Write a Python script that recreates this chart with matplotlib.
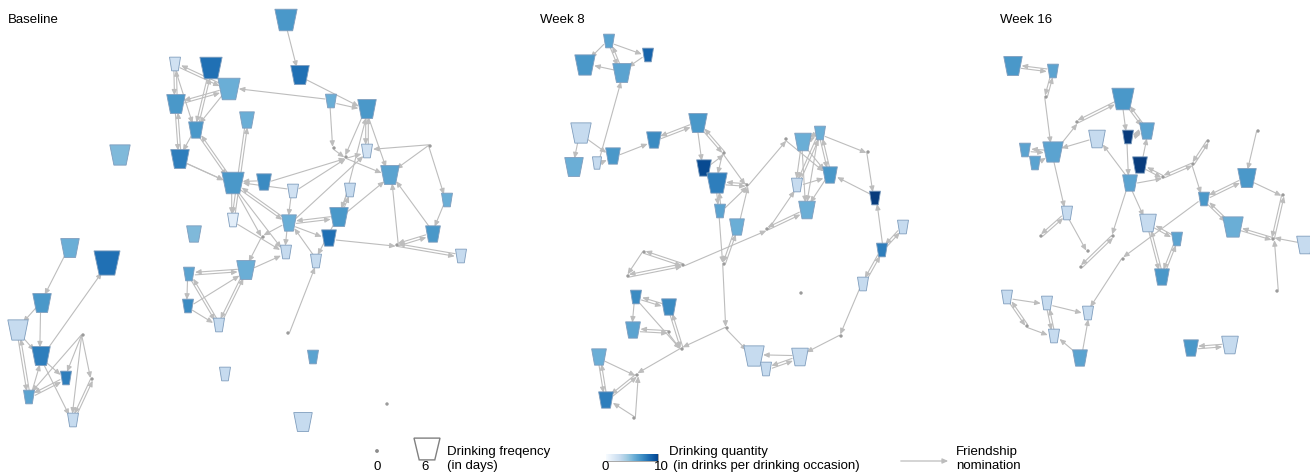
import numpy as np
import matplotlib
matplotlib.use('Agg')
import matplotlib.pyplot as plt
from matplotlib.patches import Polygon, Circle, FancyArrowPatch

plt.rcParams['font.family'] = ['Liberation Sans', 'DejaVu Sans']

# Nodes: (x, y, drinking frequency in days, drinking quantity) -- layout in pixels
base_nodes = [
    (286, 20, 5, 6), (300, 75, 4, 7.5), (175, 64, 2, 2), (211, 68, 5, 7.5),
    (229, 89, 5, 5), (176, 104, 4, 6), (331, 101, 2, 5), (367, 109, 4, 6),
    (196, 130, 3, 6), (247, 120, 3, 5), (120, 155, 4.5, 4.5), (180, 159, 4, 7),
    (233, 183, 5, 6), (264, 182, 3, 6.5), (293, 191, 2, 2), (367, 151, 2, 2),
    (350, 190, 2, 2.5), (390, 175, 4, 5.5), (447, 200, 2, 5), (339, 217, 4, 6),
    (233, 220, 2, 1), (289, 223, 3, 5), (329, 238, 3, 7.5), (194, 234, 3, 4.5),
    (286, 252, 2, 2.5), (316, 261, 2, 2.5), (246, 270, 4, 5), (433, 234, 3, 6),
    (461, 256, 2, 2.5), (189, 274, 2, 5.5), (188, 306, 2, 6.5), (219, 325, 2, 2.5),
    (70, 248, 4, 5), (107, 263, 6, 7.5), (42, 303, 4, 6), (18, 330, 4.5, 2.5),
    (41, 356, 4, 7), (66, 378, 2, 7), (29, 397, 2, 5.5), (73, 420, 2, 2.5),
    (313, 357, 2, 5.5), (225, 374, 2, 2.5), (303, 422, 4, 2.5),
    (83, 335, 0, 0), (92, 379, 0, 0), (288, 333, 0, 0), (387, 404, 0, 0),
    (430, 146, 0, 0), (334, 148, 0, 0), (346, 157, 0, 0), (263, 237, 0, 0),
    (397, 245, 0, 0),
]
base_edges = [
    (0, 1), (1, 7), (2, 5), (5, 2), (2, 4), (4, 2), (2, 8), (3, 8), (8, 3),
    (4, 5), (5, 4), (4, 8), (6, 4), (6, 48), (6, 7), (5, 11), (11, 5), (8, 11),
    (8, 12), (12, 8), (11, 12), (9, 20), (20, 9), (7, 15), (15, 7), (7, 17),
    (7, 49), (19, 7), (14, 49), (49, 15), (21, 15), (49, 17), (48, 49), (13, 49),
    (47, 15), (47, 17), (47, 18), (27, 17), (18, 27), (27, 51), (51, 27),
    (22, 51), (51, 28), (28, 51), (51, 17), (19, 21), (21, 19), (16, 19),
    (19, 16), (19, 17), (13, 12), (14, 12), (14, 21), (12, 24), (12, 21),
    (21, 12), (12, 20), (20, 24), (12, 50), (21, 50), (50, 26), (25, 21),
    (19, 25), (45, 25), (29, 26), (26, 29), (26, 31), (31, 26), (26, 24),
    (29, 31), (31, 29), (30, 26), (29, 30), (30, 31), (11, 12), (21, 22),
    (21, 24),
    (32, 34), (34, 36), (34, 35), (35, 36), (36, 33), (35, 38), (38, 35),
    (36, 37), (36, 39), (38, 37), (37, 38), (38, 36), (43, 37), (43, 38),
    (43, 39), (43, 44), (44, 39), (39, 44),
]

week8_nodes = [
    (609, 41, 2, 5.5), (585, 65, 4.5, 6), (648, 55, 2, 8), (622, 73, 4, 5.5),
    (581, 133, 4.5, 2.5), (574, 167, 4, 5), (597, 163, 1.5, 2.5), (613, 156, 3, 6),
    (654, 140, 3, 6.5), (698, 123, 4, 6), (704, 168, 3, 9), (717, 183, 4.5, 7),
    (720, 211, 2, 5.5), (737, 227, 3, 5), (803, 142, 3.5, 5), (820, 133, 2, 5),
    (830, 175, 3, 6), (797, 185, 2, 2.5), (807, 210, 3.5, 5), (875, 198, 2, 9.5),
    (903, 227, 2, 2.5), (882, 250, 2, 7), (863, 284, 2, 2.5), (636, 297, 2, 6.5),
    (669, 307, 3, 6.5), (633, 330, 3, 5.5), (599, 357, 3, 5), (606, 400, 3, 7),
    (754, 356, 4.5, 2.5), (766, 369, 2, 2.5), (800, 357, 3.5, 2.5),
    (724, 153, 0, 0), (747, 185, 0, 0), (786, 139, 0, 0), (868, 152, 0, 0),
    (767, 229, 0, 0), (724, 264, 0, 0), (644, 252, 0, 0), (683, 265, 0, 0),
    (628, 276, 0, 0), (727, 328, 0, 0), (682, 349, 0, 0), (637, 375, 0, 0),
    (634, 418, 0, 0), (841, 336, 0, 0), (801, 293, 0, 0), (669, 332, 0, 0),
]
week8_edges = [
    (0, 1), (0, 3), (3, 0), (0, 2), (2, 3), (3, 1), (6, 3), (4, 5), (4, 7),
    (6, 7), (7, 8), (8, 9), (9, 8), (9, 10), (9, 31), (31, 9), (10, 31),
    (31, 11), (11, 32), (32, 11), (11, 12), (12, 11), (12, 32), (13, 32),
    (31, 32), (32, 33), (33, 16), (12, 36), (13, 36), (36, 13), (36, 40),
    (38, 35), (35, 18), (18, 35), (35, 17), (37, 38), (38, 37), (39, 38),
    (38, 39), (37, 39), (14, 15), (15, 14), (14, 16), (15, 16), (16, 15),
    (15, 17), (17, 15), (14, 17), (15, 18), (16, 18), (14, 18), (17, 16),
    (15, 34), (34, 19), (19, 16), (20, 21), (21, 20), (21, 19), (21, 22),
    (22, 21), (22, 44), (44, 30), (30, 29), (29, 30), (30, 28), (40, 28),
    (40, 41), (23, 24), (24, 23), (23, 25), (25, 46), (46, 25), (24, 41),
    (41, 24), (46, 41), (23, 41), (41, 42), (26, 42), (26, 27), (27, 26),
    (27, 42), (42, 27), (43, 27), (43, 42),
]

week16_nodes = [
    (1013, 66, 4, 6), (1053, 71, 2, 5.5), (1123, 99, 5, 6), (1147, 131, 3, 5.5),
    (1128, 137, 2, 9.5), (1097, 139, 3.5, 2.5), (1053, 152, 4.5, 5.5),
    (1025, 150, 2, 5.5), (1035, 163, 2, 5.5), (1140, 165, 3, 9.5),
    (1130, 183, 3, 5.5), (1247, 178, 4, 6), (1204, 199, 2, 6), (1067, 213, 2, 2.5),
    (1148, 223, 3.5, 2.5), (1177, 239, 2, 5.5), (1233, 227, 4.5, 5),
    (1305, 245, 3.5, 2.5), (1162, 277, 3, 6), (1007, 297, 2, 2.5),
    (1047, 303, 2, 2.5), (1088, 313, 2, 2.5), (1054, 336, 2, 2.5),
    (1080, 358, 3, 5.5), (1191, 348, 3, 6), (1230, 345, 3.5, 2.5),
    (1046, 97, 0, 0), (1077, 122, 0, 0), (1163, 177, 0, 0), (1193, 164, 0, 0),
    (1208, 141, 0, 0), (1258, 131, 0, 0), (1283, 195, 0, 0), (1273, 239, 0, 0),
    (1277, 291, 0, 0), (1041, 236, 0, 0), (1088, 251, 0, 0), (1081, 267, 0, 0),
    (1113, 236, 0, 0), (1123, 259, 0, 0), (1027, 326, 0, 0),
]
week16_edges = [
    (0, 1), (1, 0), (1, 26), (26, 1), (26, 6), (6, 7), (7, 6), (8, 6), (6, 27),
    (27, 2), (2, 27), (5, 6), (2, 4), (2, 3), (3, 2), (3, 4), (4, 3), (4, 10),
    (9, 3), (9, 28), (28, 9), (10, 28), (28, 29), (29, 28), (30, 29), (29, 30),
    (29, 12), (10, 5), (10, 38), (38, 37), (37, 38), (6, 13), (13, 36),
    (35, 13), (13, 35), (10, 14), (14, 15), (15, 14), (14, 18), (18, 14),
    (15, 18), (18, 15), (12, 11), (11, 12), (12, 16), (16, 12), (12, 39),
    (39, 21), (31, 11), (11, 32), (32, 33), (33, 32), (16, 33), (33, 16),
    (17, 33), (34, 33), (19, 20), (19, 40), (40, 19), (40, 22), (20, 22),
    (22, 20), (20, 21), (23, 22), (23, 21), (24, 25), (25, 24),
]

panel_titles = ['Baseline', 'Week 8', 'Week 16']
title_x = [8, 540, 1000]
freq_max = 6
qty_max = 10

edge_color = '#bdbdbd'
arrow_style = '-|>,head_length=0.45,head_width=0.2'
cmap = plt.get_cmap('Blues')


def node_shape(f):
    # trapezoid size grows with drinking frequency
    w = 3.5 + 3.75 * f
    h = 6 + 0.7 * w
    return w, h


def trapezoid(x, y, w, h):
    return [(x - w / 2, y - h / 2), (x + w / 2, y - h / 2),
            (x + 0.3 * w, y + h / 2), (x - 0.3 * w, y + h / 2)]


def draw_network(ax, nodes, edges):
    radius = []
    for x, y, f, q in nodes:
        if f == 0:
            radius.append(1.2)
        else:
            w, h = node_shape(f)
            radius.append(0.45 * h)

    for a, b in edges:
        xa, ya = nodes[a][0], nodes[a][1]
        xb, yb = nodes[b][0], nodes[b][1]
        d = np.hypot(xb - xa, yb - ya)
        # small sideways shift so that mutual nominations show as two lines
        ox, oy = -(yb - ya) / d * 1.3, (xb - xa) / d * 1.3
        arr = FancyArrowPatch((xa + ox, ya + oy), (xb + ox, yb + oy),
                              arrowstyle=arrow_style, mutation_scale=7.5,
                              color=edge_color, lw=0.8,
                              shrinkA=radius[a] * 0.72, shrinkB=radius[b] * 0.72,
                              zorder=1)
        ax.add_patch(arr)

    for x, y, f, q in nodes:
        if f == 0:
            ax.add_patch(Circle((x, y), 1.0, color='#9a9a9a', zorder=3))
        else:
            w, h = node_shape(f)
            ax.add_patch(Polygon(trapezoid(x, y, w, h), closed=True,
                                 facecolor=cmap(q / qty_max), edgecolor='#7f9dbd',
                                 lw=0.6, zorder=3))


fig = plt.figure(figsize=(13.1, 4.76), dpi=100)
ax = fig.add_axes([0, 0, 1, 1])
ax.set_xlim(0, 1310)
ax.set_ylim(476, 0)
ax.axis('off')

for nodes, edges in [(base_nodes, base_edges), (week8_nodes, week8_edges),
                     (week16_nodes, week16_edges)]:
    draw_network(ax, nodes, edges)

for t, x in zip(panel_titles, title_x):
    ax.text(x, 20, t, fontsize=9.5, va='center', ha='left')

# legend: frequency
ax.add_patch(Circle((377, 451), 1.2, color='#8c8c8c'))
ax.text(377, 467, '0', fontsize=9.5, ha='center', va='center')
w, h = node_shape(freq_max)
ax.add_patch(Polygon(trapezoid(427, 449, w, h * 0.9), closed=True,
                     facecolor='white', edgecolor='#808080', lw=1))
ax.text(425, 467, str(freq_max), fontsize=9.5, ha='center', va='center')
ax.text(447, 452, 'Drinking freqency', fontsize=9.5, va='center')
ax.text(447, 466, '(in days)', fontsize=9.5, va='center')

# legend: quantity
grad = np.linspace(0, 0.92, 200).reshape(1, -1)
ax.imshow(grad, cmap='Blues', vmin=0, vmax=1, aspect='auto',
          extent=(606, 658, 461, 454), zorder=2)
ax.add_patch(plt.Rectangle((606, 454), 52, 7, fill=False, edgecolor='#9a9a9a', lw=0.6))
ax.text(605, 467, '0', fontsize=9.5, ha='center', va='center')
ax.text(661, 467, str(qty_max), fontsize=9.5, ha='center', va='center')
ax.text(669, 452, 'Drinking quantity', fontsize=9.5, va='center')
ax.text(673, 466, '(in drinks per drinking occasion)', fontsize=9.5, va='center')

# legend: friendship nomination
ax.add_patch(FancyArrowPatch((898, 461), (951, 461), arrowstyle=arrow_style,
                             mutation_scale=7.5, color=edge_color, lw=0.9))
ax.text(956, 452, 'Friendship', fontsize=9.5, va='center')
ax.text(956, 466, 'nomination', fontsize=9.5, va='center')

fig.savefig('out.png', dpi=100)
